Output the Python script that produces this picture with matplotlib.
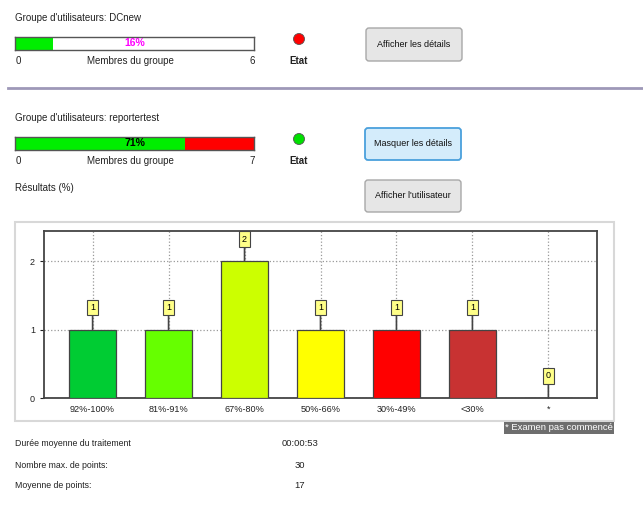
import matplotlib
matplotlib.use("Agg")
import matplotlib.pyplot as plt
from matplotlib.patches import FancyBboxPatch, Circle, Rectangle

plt.rcParams['font.family'] = ['Liberation Sans', 'DejaVu Sans']

# data
group_names = ["DCnew", "reportertest"]
group_pct = [16, 71]
group_members = [6, 7]
group_rest_color = ["white", "#ff0000"]
group_status = ["#ff0000", "#00e000"]
group_pct_color = ["#ff00ff", "black"]

categories = ["92%-100%", "81%-91%", "67%-80%", "50%-66%", "30%-49%", "<30%", "*"]
counts = [1, 1, 2, 1, 1, 1, 0]
bar_colors = ["#00cc33", "#66ff00", "#ccff00", "#ffff00", "#ff0000", "#c83232", "#ffffff"]

stat_labels = ["Durée moyenne du traitement", "Nombre max. de points:", "Moyenne de points:"]
stat_values = ["00:00:53", "30", "17"]

W, H = 643, 509
fig = plt.figure(figsize=(W / 100, H / 100), dpi=100)
fig.patch.set_facecolor("white")

# background axes in pixel coords for the page layout
bg = fig.add_axes([0, 0, 1, 1])
bg.set_xlim(0, W)
bg.set_ylim(H, 0)
bg.axis("off")


def ax_at(x0, y0, x1, y1):
    return fig.add_axes([x0 / W, 1 - y1 / H, (x1 - x0) / W, (y1 - y0) / H])


def txt(x, y, s, **kw):
    kw.setdefault("fontsize", 7)
    kw.setdefault("color", "#222222")
    kw.setdefault("va", "center")
    bg.text(x, y, s, **kw)


def button(x0, y0, x1, y1, label, fc="#e6e6e6", ec="#a8a8a8", lw=1):
    bg.add_patch(FancyBboxPatch((x0, y0), x1 - x0, y1 - y0,
                                boxstyle="round,pad=0,rounding_size=3",
                                fc=fc, ec=ec, lw=lw))
    txt((x0 + x1) / 2, (y0 + y1) / 2, label, ha="center", fontsize=6.5, color="#111111")


# two user group blocks
tops = [0, 100]
for k, top in enumerate(tops):
    txt(15, top + 18, "Groupe d'utilisateurs: " + group_names[k])
    pb = ax_at(15, top + 37, 254, top + 50)
    pb.barh(0, group_pct[k], height=1, left=0, color="#00ee00", edgecolor="none")
    pb.barh(0, 100 - group_pct[k], height=1, left=group_pct[k],
            color=group_rest_color[k], edgecolor="none")
    pb.set_xlim(0, 100)
    pb.set_ylim(-0.5, 0.5)
    pb.set_xticks([])
    pb.set_yticks([])
    for s in pb.spines.values():
        s.set_color("#555555")
        s.set_linewidth(1)
    pb.text(50, 0, f"{group_pct[k]}%", ha="center", va="center", fontsize=7.5,
            fontweight="bold", color=group_pct_color[k])
    txt(16, top + 61, "0")
    txt(130, top + 61, "Membres du groupe", ha="center")
    txt(252, top + 61, str(group_members[k]), ha="center")
    bg.add_patch(Circle((299, top + 39), 5.5, fc=group_status[k], ec="#555555", lw=0.6))
    txt(299, top + 61, "Etat", ha="center", fontweight="bold")

button(366, 28, 462, 61, "Afficher les détails")
button(365, 128, 461, 160, "Masquer les détails", fc="#d4ecfb", ec="#4aa0dc", lw=1.3)
button(365, 180, 461, 212, "Afficher l'utilisateur")

bg.plot([8, 643], [88, 88], color="#9e98b8", lw=2)

txt(15, 188, "Résultats (%)")

# chart frame
bg.add_patch(Rectangle((15, 222), 599, 199, fc="white", ec="#d8d8d8", lw=1.5))

ax = ax_at(44, 231, 597, 398)
x = list(range(len(categories)))
ax.bar(x, counts, width=0.62, color=bar_colors, edgecolor="#444444", linewidth=0.9, zorder=3)
for i, v in enumerate(counts):
    ax.annotate(str(v), xy=(i, v), xytext=(0, 22), textcoords="offset pixels",
                ha="center", va="center", fontsize=6.5, zorder=5,
                bbox=dict(boxstyle="square,pad=0.35", fc="#ffff88", ec="#444444", lw=0.8),
                arrowprops=dict(arrowstyle="-", color="#444444", lw=1.2, shrinkA=0, shrinkB=0))
ax.set_xlim(-0.64, len(categories) - 0.36)
ax.set_ylim(0, 2.44)
ax.set_yticks([0, 1, 2])
ax.set_xticks(x)
ax.set_xticklabels(categories, fontsize=6.6, color="#222222")
ax.tick_params(axis="y", labelsize=6.5, length=3, colors="#222222")
ax.tick_params(axis="x", length=0, pad=5)
ax.grid(True, linestyle=":", color="#999999", linewidth=0.9, zorder=0)
for s in ax.spines.values():
    s.set_color("#444444")
    s.set_linewidth(1.3)

txt(613, 428, "* Examen pas commencé", ha="right", fontsize=6.8, color="white",
    bbox=dict(boxstyle="square,pad=0.12", fc="#6e6e6e", ec="none"))

for j, (lab, val) in enumerate(zip(stat_labels, stat_values)):
    y = 444 + 21 * j
    txt(15, y, lab, fontsize=6.3)
    txt(300, y, val, ha="center", fontsize=6.8)

fig.savefig("out.png", dpi=100)
